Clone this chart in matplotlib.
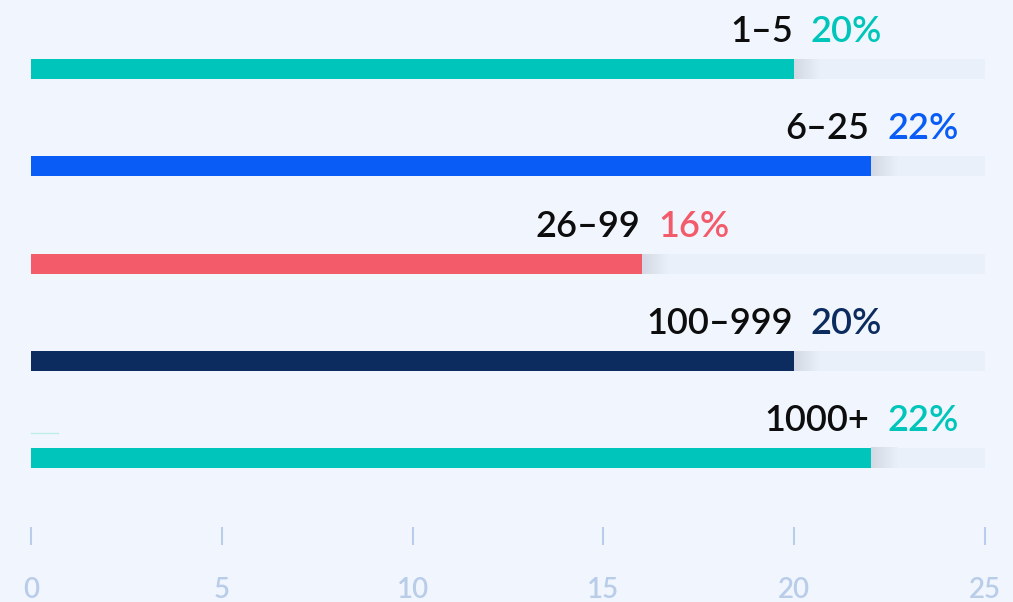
import matplotlib
import numpy as np

matplotlib.use("Agg")
import matplotlib.pyplot as plt
from matplotlib.colors import LinearSegmentedColormap

plt.rcParams["font.family"] = ["Lato", "DejaVu Sans"]

# data
GROUPS = ["1–5", "6–25", "26–99", "100–999", "1000+"]
SHARES = [20, 22, 16, 20, 22]
COLORS = ["#00c5bb", "#0a5cf6", "#f35b6b", "#0c2b5e", "#00c5bb"]
TICKS = [0, 5, 10, 15, 20, 25]
XMAX = 25

BG, TRACK, TICK = "#f1f6fe", "#e9f0f9", "#b9cde9"
PX = 38.16   # px per unit on x
ROW = 97.3   # px per row

fig = plt.figure(figsize=(10.13, 6.02), dpi=100)
fig.patch.set_facecolor(BG)
ax = fig.add_axes([0, 0, 1, 1])
ax.set_facecolor(BG)
ax.axis("off")

bh = 20 / ROW
shade = LinearSegmentedColormap.from_list("shade", ["#d3d9e4", TRACK])
for i, (g, v, c) in enumerate(zip(GROUPS, SHARES, COLORS)):
    ax.barh(i, XMAX, height=bh, color=TRACK, zorder=1)
    ax.imshow(np.linspace(0, 1, 64)[None, :], cmap=shade, aspect="auto",
              extent=(v, v + 26 / PX, i + bh / 2, i - bh / 2), zorder=2)
    ax.barh(i, v, height=bh, color=c, zorder=3)
    pct = ax.text(v + 88 / PX, i - 27 / ROW, f"{v}%", color=c, fontsize=26,
                  fontweight="semibold", ha="right", va="baseline")
    ax.annotate(g, xy=(0, 0), xycoords=pct, xytext=(-13, 0),
                textcoords="offset points", ha="right", va="bottom",
                color="#0d0d0d", fontsize=26, fontweight="semibold")

# stray faint line above the last bar, as in the source
ax.plot([0, 27 / PX], [4 - 25 / ROW] * 2, color="#bdeeea", lw=1, zorder=1)

ax.set_aspect("auto")
ax.set_xlim(-31 / PX, XMAX + 28 / PX)
ax.set_ylim((602 - 69) / ROW, -69 / ROW)

for t in TICKS:
    ax.vlines(t, (527 - 69) / ROW, (545 - 69) / ROW, color=TICK, lw=1.5)
    ax.text(t, (598 - 69) / ROW, str(t), color=TICK, fontsize=20,
            fontweight="semibold", ha="center", va="baseline")

fig.savefig("out.png", facecolor=BG)
